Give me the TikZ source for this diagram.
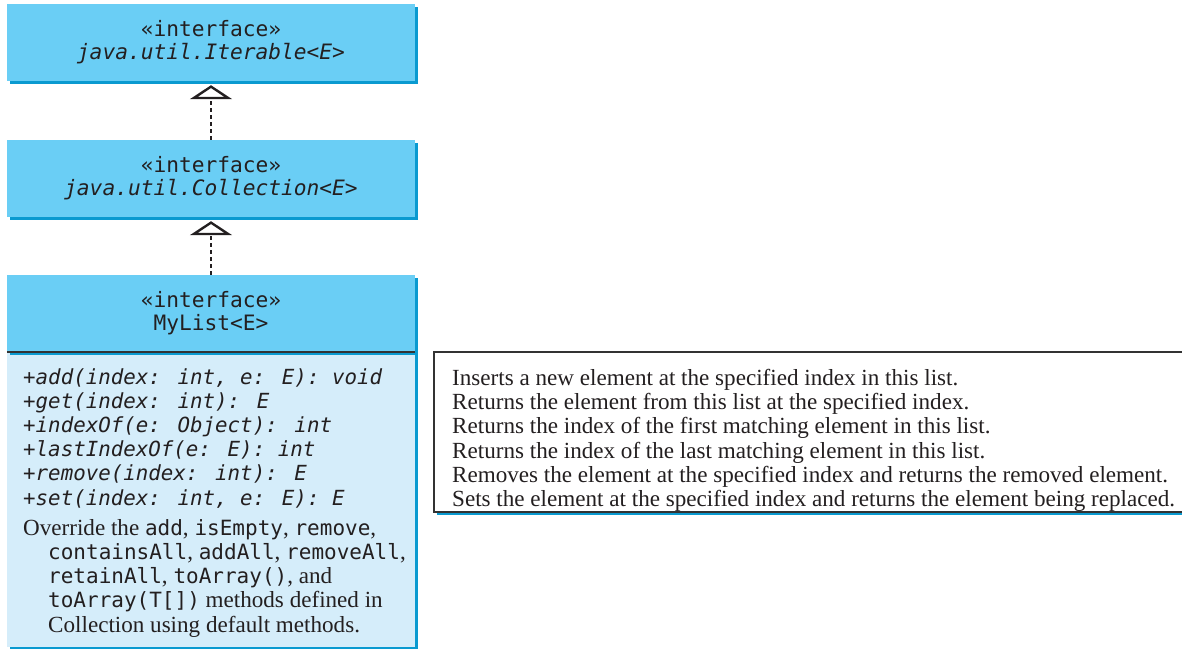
\documentclass[tikz,border=0pt]{standalone}
\usepackage{fontspec}
\setmainfont{Liberation Serif}
\newfontfamily\umono{DejaVu Sans Mono}
\usetikzlibrary{arrows.meta,shadows}
\definecolor{headblue}{HTML}{6ACEF5}
\definecolor{shadeblue}{HTML}{0A9AD0}
\definecolor{bodyblue}{HTML}{D5EDFA}
\definecolor{ink}{HTML}{231F20}
\definecolor{rulegray}{HTML}{333333}
\newcommand{\mymeth}[1]{{\umono\itshape\fontsize{20.8}{24.2}\selectfont #1}}
\newcommand{\mycode}[1]{{\umono\fontsize{21}{24.2}\selectfont #1}}
\begin{document}
\begin{tikzpicture}[x=1pt,y=-1pt,
  boxshadow/.style={general shadow={shadow xshift=3pt,shadow yshift=-3pt,fill=shadeblue}},
  headbox/.style={rectangle,inner sep=0pt,minimum width=408pt,minimum height=77pt,
    fill=headblue,text=ink,align=center,boxshadow,
    font=\umono\fontsize{21.2}{23}\selectfont},
  bodybox/.style={rectangle,inner sep=0pt,minimum width=408pt,minimum height=295pt,
    fill=bodyblue,boxshadow},
  descbox/.style={rectangle,inner sep=0pt,minimum width=761pt,minimum height=160pt,
    draw=rulegray,line width=1.4pt,fill=white,boxshadow},
  bodytext/.style={inner sep=0pt,align=left,text=ink,font=\fontsize{23.1}{24.2}\selectfont},
  realize/.style={draw=ink,line width=2.6pt,dash pattern=on 4pt off 3pt,
    -{Triangle[open,length=14pt,width=42pt,line width=2.4pt]}},
  divider/.style={draw=rulegray,line width=1.5pt}
]
\useasboundingbox (0,0) rectangle (1182,648);

\node[headbox] (iter) at (211,42.5) {«interface»\\\textit{java.util.Iterable<E>}};
\node[headbox] (coll) at (211,178.5) {«interface»\\\textit{java.util.Collection<E>}};
\node[bodybox] (mlbody) at (211,499.5) {};
\node[headbox] (mlhead) at (211,313.5) {«interface»\\MyList<E>};
\draw[divider] (mlhead.south west) -- (mlhead.south east);

\node[bodytext,anchor=north west] (mltext) at (23,368) {%
\mymeth{+add(index: int, e: E): void}\\
\mymeth{+get(index: int): E}\\
\mymeth{+indexOf(e: Object): int}\\
\mymeth{+lastIndexOf(e: E): int}\\
\mymeth{+remove(index: int): E}\\
\mymeth{+set(index: int, e: E): E}\\[6pt]
Override the \mycode{add}, \mycode{isEmpty}, \mycode{remove},\\
\hspace*{25pt}\mycode{containsAll}, \mycode{addAll}, \mycode{removeAll},\\
\hspace*{25pt}\mycode{retainAll}, \mycode{toArray()}, and\\
\hspace*{25pt}\mycode{toArray(T[])} methods defined in\\
\hspace*{25pt}Collection using default methods.};

\node[descbox] (desc) at (814.5,432) {};
\node[bodytext,anchor=north west] (desctext) at (452,369) {%
Inserts a new element at the specified index in this list.\\
Returns the element from this list at the specified index.\\
Returns the index of the first matching element in this list.\\
Returns the index of the last matching element in this list.\\
Removes the element at the specified index and returns the removed element.\\
Sets the element at the specified index and returns the element being replaced.};

\draw[realize] (coll.north) -- ([yshift=-4pt]iter.south);
\draw[realize] (mlhead.north) -- ([yshift=-4pt]coll.south);
\end{tikzpicture}
\end{document}
